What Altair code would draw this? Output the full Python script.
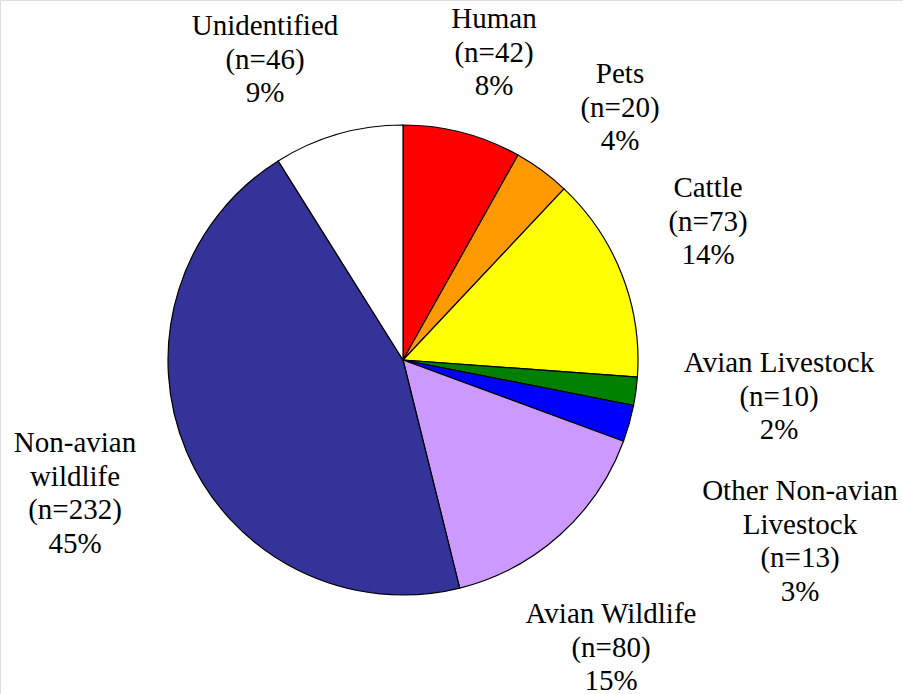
import math
import altair as alt
import pandas as pd

categories = ["Human", "Pets", "Cattle", "Avian Livestock",
              "Other Non-avian Livestock", "Avian Wildlife",
              "Non-avian wildlife", "Unidentified"]
label_names = [["Human"], ["Pets"], ["Cattle"], ["Avian Livestock"],
               ["Other Non-avian", "Livestock"], ["Avian Wildlife"],
               ["Non-avian", "wildlife"], ["Unidentified"]]
counts = [42, 20, 73, 10, 13, 80, 232, 46]
percent_labels = ["8%", "4%", "14%", "2%", "3%", "15%", "45%", "9%"]
colors = ["#FF0000", "#FF9900", "#FFFF00", "#008000",
          "#0000FF", "#CC99FF", "#333399", "#FFFFFF"]

CX, CY, R = 403, 360, 235
FONT = "Liberation Serif"
FONT_SIZE = 29
LINE_H = 33.5
label_x = [494, 620, 708, 779, 800, 611, 75, 265]
label_y = [28, 83, 197, 372, 500, 623, 452, 35]

total = sum(counts)
df = pd.DataFrame({"idx": list(range(len(categories))), "cat": categories, "n": counts})

rows = []
for i, (nm, c, p) in enumerate(zip(label_names, counts, percent_labels)):
    lines = nm + [f"(n={c})", p]
    for j, t in enumerate(lines):
        rows.append({"lab": categories[i], "txt": t,
                     "lx": label_x[i], "ly": label_y[i] + j * LINE_H})
text_df = pd.DataFrame(rows)

base = alt.Chart(df).transform_window(
    cum="sum(n)", sort=[alt.SortField("idx")], frame=[None, 0]
).transform_calculate(a0="datum.cum - datum.n", a1="datum.cum")

theta_scale = alt.Scale(domain=[0, total], range=[0, 2 * math.pi], zero=True)
fill_scale = alt.Scale(domain=categories, range=colors)

pie = base.mark_arc(radius=R, stroke="black", strokeWidth=1.2).encode(
    x=alt.value(CX), y=alt.value(CY),
    theta=alt.Theta("a0:Q", scale=theta_scale, stack=None),
    theta2="a1:Q",
    fill=alt.Fill("cat:N", scale=fill_scale, legend=None),
)

labels = alt.Chart(text_df).mark_text(
    font=FONT, fontSize=FONT_SIZE, color="black", align="center",
    baseline="alphabetic",
).encode(
    x=alt.X("lx:Q", scale=None), y=alt.Y("ly:Q", scale=None),
    text="txt:N",
)

chart = alt.layer(pie, labels).properties(
    width=903, height=694,
    autosize=alt.AutoSizeParams(type="none"),
    padding=0,
)

chart.save("out.html", embed_options={"renderer": "svg", "actions": False})
